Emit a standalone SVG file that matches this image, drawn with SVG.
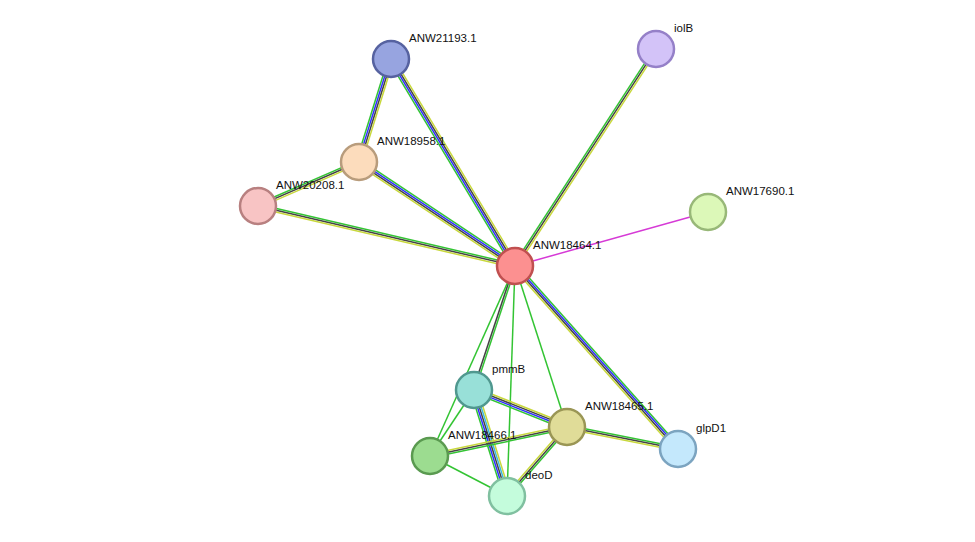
<svg xmlns="http://www.w3.org/2000/svg" width="975" height="542" viewBox="0 0 975 542">
<style>
line{stroke-width:1.5;fill:none}
.g{stroke:#33c433}.b{stroke:#2f2fff}.k{stroke:#444}.y{stroke:#c8d83c}.c{stroke:#3ab8e0}.m{stroke:#d63ad6}
circle{stroke-width:2.5}
text{font-family:"Liberation Sans",Arial,sans-serif;font-size:11.5px;fill:#111}
</style>
<rect width="975" height="542" fill="#fff"/>
<g id="connectors">
<g transform="translate(515,266) rotate(-120.93)"><line class="g" x1="0" y1="-2.7" x2="241" y2="-2.7"/><line class="b" x1="0" y1="-0.9" x2="241" y2="-0.9"/><line class="k" x1="0" y1="0.9" x2="241" y2="0.9"/><line class="y" x1="0" y1="2.7" x2="241" y2="2.7"/></g>
<g transform="translate(515,266) rotate(-56.98)"><line class="g" x1="0" y1="-1.8" x2="259" y2="-1.8"/><line class="k" x1="0" y1="0" x2="259" y2="0"/><line class="y" x1="0" y1="1.8" x2="259" y2="1.8"/></g>
<g transform="translate(515,266) rotate(213.69)"><line class="g" x1="0" y1="2.7" x2="187" y2="2.7"/><line class="b" x1="0" y1="0.9" x2="187" y2="0.9"/><line class="k" x1="0" y1="-0.9" x2="187" y2="-0.9"/><line class="y" x1="0" y1="-2.7" x2="187" y2="-2.7"/></g>
<g transform="translate(515,266) rotate(193.14)"><line class="g" x1="0" y1="1.8" x2="264" y2="1.8"/><line class="k" x1="0" y1="0" x2="264" y2="0"/><line class="y" x1="0" y1="-1.8" x2="264" y2="-1.8"/></g>
<line class="m" x1="515" y1="266" x2="708" y2="212"/>
<g transform="translate(515,266) rotate(108.3)"><line class="g" x1="0" y1="-0.9" x2="131" y2="-0.9"/><line class="k" x1="0" y1="0.9" x2="131" y2="0.9"/></g>
<line class="g" x1="515" y1="266" x2="567" y2="427"/>
<line class="g" x1="515" y1="266" x2="507" y2="496"/>
<line class="g" x1="515" y1="266" x2="430" y2="456"/>
<g transform="translate(515,266) rotate(48.3)"><line class="g" x1="0" y1="-2.7" x2="245" y2="-2.7"/><line class="b" x1="0" y1="-0.9" x2="245" y2="-0.9"/><line class="k" x1="0" y1="0.9" x2="245" y2="0.9"/><line class="y" x1="0" y1="2.7" x2="245" y2="2.7"/></g>
<g transform="translate(391,59) rotate(107.26)"><line class="g" x1="0" y1="2.7" x2="108" y2="2.7"/><line class="b" x1="0" y1="0.9" x2="108" y2="0.9"/><line class="k" x1="0" y1="-0.9" x2="108" y2="-0.9"/><line class="y" x1="0" y1="-2.7" x2="108" y2="-2.7"/></g>
<g transform="translate(359,162) rotate(156.46)"><line class="g" x1="0" y1="1.8" x2="110" y2="1.8"/><line class="k" x1="0" y1="0" x2="110" y2="0"/><line class="y" x1="0" y1="-1.8" x2="110" y2="-1.8"/></g>
<g transform="translate(474,390) rotate(21.7)"><line class="g" x1="0" y1="2.7" x2="100" y2="2.7"/><line class="b" x1="0" y1="0.9" x2="100" y2="0.9"/><line class="k" x1="0" y1="-0.9" x2="100" y2="-0.9"/><line class="y" x1="0" y1="-2.7" x2="100" y2="-2.7"/></g>
<line class="g" x1="474" y1="390" x2="430" y2="456"/>
<g transform="translate(474,390) rotate(72.7)"><line class="g" x1="0" y1="3.6" x2="111" y2="3.6"/><line class="b" x1="0" y1="1.8" x2="111" y2="1.8"/><line class="k" x1="0" y1="0" x2="111" y2="0"/><line class="c" x1="0" y1="-1.8" x2="111" y2="-1.8"/><line class="y" x1="0" y1="-3.6" x2="111" y2="-3.6"/></g>
<g transform="translate(567,427) rotate(168.05)"><line class="g" x1="0" y1="-1.8" x2="140" y2="-1.8"/><line class="k" x1="0" y1="0" x2="140" y2="0"/><line class="y" x1="0" y1="1.8" x2="140" y2="1.8"/></g>
<g transform="translate(567,427) rotate(11.2)"><line class="g" x1="0" y1="-1.8" x2="113" y2="-1.8"/><line class="k" x1="0" y1="0" x2="113" y2="0"/><line class="y" x1="0" y1="1.8" x2="113" y2="1.8"/></g>
<g transform="translate(567,427) rotate(131)"><line class="g" x1="0" y1="-1.8" x2="91" y2="-1.8"/><line class="k" x1="0" y1="0" x2="91" y2="0"/><line class="y" x1="0" y1="1.8" x2="91" y2="1.8"/></g>
<line class="g" x1="430" y1="456" x2="507" y2="496"/>
</g>
<g id="ANW21193.1"><circle cx="391" cy="59" r="18" fill="#97a4e0" stroke="#5662a0"/><text x="409" y="42">ANW21193.1</text></g>
<g id="iolB"><circle cx="656" cy="49" r="18" fill="#d3c3f8" stroke="#9580c8"/><text x="674" y="32">iolB</text></g>
<g id="ANW18958.1"><circle cx="359" cy="162" r="18" fill="#fcdcbc" stroke="#b89c7c"/><text x="377" y="145">ANW18958.1</text></g>
<g id="ANW20208.1"><circle cx="258" cy="206" r="18" fill="#f8c4c4" stroke="#b88080"/><text x="276" y="189">ANW20208.1</text></g>
<g id="ANW17690.1"><circle cx="708" cy="212" r="18" fill="#dcf8b8" stroke="#98b878"/><text x="726" y="195">ANW17690.1</text></g>
<g id="ANW18464.1"><circle cx="515" cy="266" r="18" fill="#fc9090" stroke="#c05050"/><text x="533" y="249">ANW18464.1</text></g>
<g id="pmmB"><circle cx="474" cy="390" r="18" fill="#98e0d8" stroke="#50988f"/><text x="492" y="373">pmmB</text></g>
<g id="ANW18465.1"><circle cx="567" cy="427" r="18" fill="#e0dc98" stroke="#9a9655"/><text x="585" y="410">ANW18465.1</text></g>
<g id="ANW18466.1"><circle cx="430" cy="456" r="18" fill="#9cdc90" stroke="#5a9a50"/><text x="448" y="439">ANW18466.1</text></g>
<g id="glpD1"><circle cx="678" cy="449" r="18" fill="#c4e8fc" stroke="#7ca4c0"/><text x="696" y="432">glpD1</text></g>
<g id="deoD"><circle cx="507" cy="496" r="18" fill="#c4fcdc" stroke="#80c0a0"/><text x="525" y="479">deoD</text></g>
</svg>
